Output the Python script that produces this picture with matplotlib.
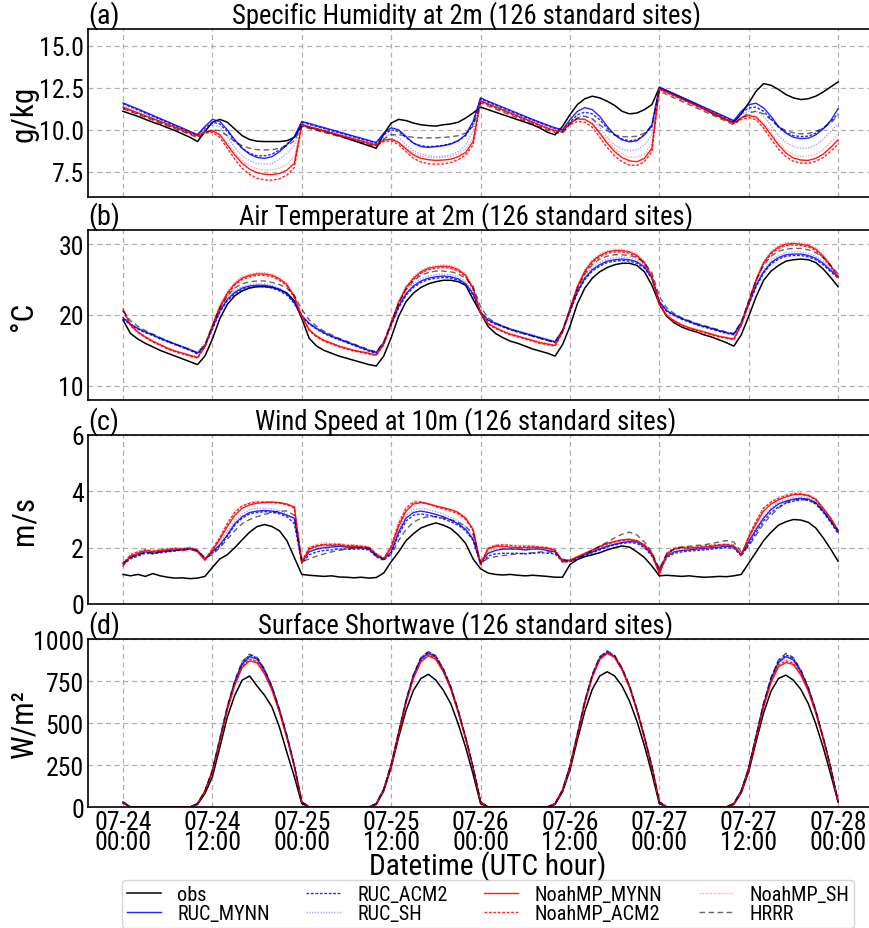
import numpy as np
import matplotlib
matplotlib.use('Agg')
import matplotlib.pyplot as plt
from matplotlib import font_manager

# ---------------- data (hourly, 07-24 00 UTC .. 07-28 00 UTC) ----------------
hours = np.arange(97)
tick_hours = [0, 12, 24, 36, 48, 60, 72, 84, 96]
tick_labels = ['07-24\n00:00', '07-24\n12:00', '07-25\n00:00', '07-25\n12:00', '07-26\n00:00',
               '07-26\n12:00', '07-27\n00:00', '07-27\n12:00', '07-28\n00:00']
series_names = ['obs', 'RUC_MYNN', 'RUC_ACM2', 'RUC_SH', 'NoahMP_MYNN', 'NoahMP_ACM2', 'NoahMP_SH', 'HRRR']

# (a) specific humidity g/kg
q_obs = [11.10, 10.95, 10.80, 10.62, 10.45, 10.30, 10.12, 9.95, 9.75, 9.55, 9.30, 9.90, 10.45, 10.62, 10.45, 10.05, 9.65, 9.42, 9.32, 9.30, 9.30, 9.30, 9.35, 9.55,
         10.30, 10.15, 10.05, 9.92, 9.80, 9.65, 9.50, 9.35, 9.20, 9.05, 8.90, 9.75, 10.40, 10.62, 10.55, 10.40, 10.30, 10.25, 10.22, 10.30, 10.35, 10.45, 10.70, 11.00,
         11.35, 11.20, 11.05, 10.90, 10.75, 10.60, 10.45, 10.30, 10.10, 9.85, 9.70, 10.20, 10.90, 11.50, 11.85, 12.00, 11.90, 11.70, 11.45, 11.10, 10.95, 11.00, 11.20, 11.50,
         12.50, 12.30, 12.10, 11.90, 11.70, 11.50, 11.25, 11.00, 10.80, 10.60, 10.45, 10.95, 11.60, 12.30, 12.75, 12.65, 12.40, 12.10, 11.90, 11.80, 11.85, 12.00, 12.25, 12.55, 12.85]
q_ruc_mynn = [11.60, 11.42, 11.24, 11.05, 10.86, 10.67, 10.48, 10.29, 10.10, 9.90, 9.72, 10.20, 10.62, 10.50, 10.00, 9.40, 8.90, 8.55, 8.35, 8.30, 8.40, 8.70, 9.10, 9.60,
              10.50, 10.38, 10.25, 10.13, 10.00, 9.88, 9.75, 9.62, 9.50, 9.37, 9.25, 9.80, 10.12, 10.00, 9.60, 9.20, 9.00, 8.95, 9.00, 9.05, 9.15, 9.35, 9.70, 10.50,
              11.90, 11.70, 11.52, 11.34, 11.16, 10.98, 10.80, 10.62, 10.45, 10.28, 10.12, 10.00, 10.60, 11.10, 11.32, 11.20, 10.80, 10.20, 9.70, 9.40, 9.28, 9.35, 9.70, 10.30,
              12.55, 12.35, 12.15, 11.95, 11.75, 11.55, 11.35, 11.15, 10.95, 10.75, 10.55, 11.10, 11.50, 11.58, 11.30, 10.80, 10.20, 9.80, 9.55, 9.48, 9.50, 9.70, 10.05, 10.55, 11.25]
q_ruc_acm2 = [11.55, 11.37, 11.19, 11.00, 10.81, 10.62, 10.43, 10.24, 10.05, 9.86, 9.70, 10.10, 10.45, 10.35, 9.90, 9.35, 8.90, 8.60, 8.45, 8.45, 8.55, 8.80, 9.15, 9.55,
              10.45, 10.33, 10.20, 10.08, 9.95, 9.83, 9.70, 9.58, 9.45, 9.33, 9.20, 9.70, 10.00, 9.90, 9.55, 9.20, 9.05, 9.00, 9.02, 9.08, 9.18, 9.35, 9.65, 10.35,
              11.85, 11.65, 11.47, 11.29, 11.11, 10.93, 10.75, 10.58, 10.41, 10.24, 10.08, 9.98, 10.45, 10.90, 11.05, 10.95, 10.60, 10.10, 9.70, 9.45, 9.35, 9.40, 9.70, 10.20,
              12.50, 12.30, 12.10, 11.90, 11.70, 11.50, 11.30, 11.10, 10.90, 10.70, 10.52, 11.00, 11.30, 11.35, 11.10, 10.65, 10.15, 9.85, 9.65, 9.60, 9.62, 9.80, 10.10, 10.50, 10.95]
q_ruc_sh = [11.50, 11.32, 11.14, 10.95, 10.76, 10.57, 10.38, 10.19, 10.00, 9.82, 9.66, 10.00, 10.30, 10.15, 9.60, 8.95, 8.45, 8.15, 8.00, 7.95, 8.00, 8.25, 8.60, 9.05,
            10.40, 10.28, 10.15, 10.03, 9.90, 9.78, 9.65, 9.53, 9.40, 9.28, 9.15, 9.55, 9.75, 9.55, 9.10, 8.75, 8.55, 8.45, 8.40, 8.42, 8.50, 8.70, 9.10, 9.90,
            11.80, 11.60, 11.42, 11.24, 11.06, 10.88, 10.70, 10.53, 10.36, 10.19, 10.04, 9.95, 10.40, 10.75, 10.85, 10.65, 10.15, 9.55, 9.10, 8.85, 8.75, 8.80, 9.10, 9.70,
            12.45, 12.25, 12.05, 11.85, 11.65, 11.45, 11.25, 11.05, 10.85, 10.66, 10.48, 10.90, 11.10, 11.12, 10.80, 10.25, 9.65, 9.25, 9.00, 8.90, 8.92, 9.10, 9.45, 9.90, 10.35]
q_noah_mynn = [11.35, 11.18, 11.01, 10.84, 10.67, 10.50, 10.33, 10.16, 9.99, 9.82, 9.65, 9.88, 9.95, 9.70, 9.10, 8.50, 8.00, 7.65, 7.45, 7.35, 7.33, 7.40, 7.60, 8.00,
               10.30, 10.18, 10.06, 9.94, 9.82, 9.70, 9.58, 9.46, 9.34, 9.22, 9.10, 9.38, 9.45, 9.25, 8.85, 8.50, 8.30, 8.22, 8.18, 8.20, 8.25, 8.40, 8.65, 9.30,
               11.72, 11.54, 11.36, 11.18, 11.00, 10.82, 10.64, 10.46, 10.28, 10.10, 9.95, 9.90, 10.40, 10.65, 10.62, 10.35, 9.80, 9.20, 8.70, 8.35, 8.15, 8.10, 8.30, 8.90,
               12.45, 12.25, 12.05, 11.85, 11.65, 11.45, 11.25, 11.05, 10.85, 10.62, 10.40, 10.72, 10.85, 10.75, 10.30, 9.70, 9.10, 8.62, 8.32, 8.20, 8.18, 8.30, 8.55, 8.95, 9.40]
q_noah_acm2 = [11.30, 11.13, 10.96, 10.79, 10.62, 10.45, 10.28, 10.11, 9.94, 9.77, 9.60, 9.80, 9.85, 9.55, 8.90, 8.25, 7.70, 7.35, 7.12, 7.02, 7.00, 7.08, 7.30, 7.75,
               10.25, 10.13, 10.01, 9.89, 9.77, 9.65, 9.53, 9.41, 9.29, 9.17, 9.05, 9.30, 9.35, 9.12, 8.70, 8.30, 8.08, 7.98, 7.95, 7.97, 8.05, 8.22, 8.50, 9.10,
               11.68, 11.50, 11.32, 11.14, 10.96, 10.78, 10.60, 10.42, 10.24, 10.06, 9.90, 9.85, 10.30, 10.50, 10.45, 10.15, 9.55, 8.95, 8.45, 8.10, 7.90, 7.88, 8.10, 8.70,
               12.40, 12.20, 12.00, 11.80, 11.60, 11.40, 11.20, 11.00, 10.80, 10.58, 10.36, 10.62, 10.72, 10.60, 10.10, 9.45, 8.85, 8.40, 8.12, 8.02, 8.00, 8.12, 8.35, 8.72, 9.15]
q_noah_sh = [11.35, 11.18, 11.01, 10.84, 10.67, 10.50, 10.33, 10.16, 9.99, 9.82, 9.66, 9.92, 10.00, 9.78, 9.25, 8.65, 8.15, 7.85, 7.68, 7.60, 7.62, 7.72, 7.95, 8.40,
             10.28, 10.16, 10.04, 9.92, 9.80, 9.68, 9.56, 9.44, 9.32, 9.20, 9.08, 9.40, 9.48, 9.30, 8.95, 8.62, 8.42, 8.35, 8.32, 8.35, 8.42, 8.58, 8.85, 9.50,
             11.70, 11.52, 11.34, 11.16, 10.98, 10.80, 10.62, 10.44, 10.26, 10.08, 9.93, 9.90, 10.42, 10.68, 10.65, 10.40, 9.90, 9.35, 8.90, 8.55, 8.38, 8.35, 8.55, 9.15,
             12.42, 12.22, 12.02, 11.82, 11.62, 11.42, 11.22, 11.02, 10.82, 10.60, 10.40, 10.75, 10.90, 10.82, 10.42, 9.85, 9.25, 8.80, 8.52, 8.42, 8.42, 8.55, 8.82, 9.25, 9.80]
q_hrrr = [11.25, 11.08, 10.91, 10.74, 10.57, 10.40, 10.23, 10.06, 9.89, 9.72, 9.52, 9.80, 10.00, 9.95, 9.65, 9.30, 9.05, 8.90, 8.82, 8.80, 8.82, 8.90, 9.05, 9.35,
          10.20, 10.08, 9.96, 9.84, 9.72, 9.60, 9.48, 9.36, 9.24, 9.12, 9.00, 9.45, 9.70, 9.72, 9.62, 9.55, 9.52, 9.52, 9.52, 9.55, 9.58, 9.65, 9.80, 10.20,
          11.60, 11.42, 11.24, 11.06, 10.88, 10.70, 10.52, 10.34, 10.16, 9.98, 9.82, 9.80, 10.35, 10.70, 10.80, 10.65, 10.30, 9.95, 9.70, 9.60, 9.58, 9.62, 9.80, 10.20,
          12.30, 12.10, 11.90, 11.70, 11.50, 11.30, 11.10, 10.90, 10.70, 10.50, 10.30, 10.70, 11.00, 11.10, 10.95, 10.60, 10.20, 9.95, 9.82, 9.76, 9.78, 9.90, 10.10, 10.40, 10.85]

# (b) 2 m air temperature, deg C
t_obs = [19.3, 17.4, 16.6, 16.0, 15.5, 15.0, 14.6, 14.2, 13.8, 13.4, 13.0, 14.2, 16.6, 19.5, 21.5, 22.7, 23.4, 23.8, 24.0, 24.0, 23.9, 23.6, 23.1, 22.0,
         19.5, 16.7, 15.6, 15.0, 14.6, 14.2, 13.9, 13.6, 13.3, 13.0, 12.8, 14.2, 16.8, 19.8, 21.9, 23.1, 23.9, 24.4, 24.7, 24.9, 24.9, 24.7, 24.2, 22.2,
         20.3, 18.4, 17.4, 16.8, 16.3, 16.0, 15.6, 15.2, 14.9, 14.6, 14.2, 15.8, 18.4, 21.6, 23.8, 25.2, 26.1, 26.7, 27.1, 27.3, 27.3, 27.0, 26.1, 24.2,
         21.6, 19.8, 18.9, 18.3, 17.9, 17.6, 17.2, 16.9, 16.5, 16.1, 15.6, 17.2, 19.8, 22.6, 24.9, 26.2, 27.0, 27.6, 27.8, 27.9, 27.8, 27.4, 26.5, 25.3, 24.0]
t_ruc_mynn = [19.6, 18.7, 18.1, 17.6, 17.2, 16.7, 16.3, 15.9, 15.5, 15.1, 14.6, 15.7, 18.2, 20.6, 22.2, 23.2, 23.8, 24.1, 24.2, 24.2, 24.0, 23.6, 23.0, 21.8,
              19.9, 18.8, 18.1, 17.5, 17.0, 16.6, 16.2, 15.8, 15.4, 15.0, 14.7, 16.1, 18.7, 21.2, 23.0, 24.1, 24.8, 25.2, 25.4, 25.5, 25.4, 25.1, 24.4, 23.0,
              20.4, 19.3, 18.8, 18.4, 18.0, 17.7, 17.4, 17.1, 16.8, 16.5, 16.2, 17.8, 20.6, 23.3, 25.2, 26.4, 27.1, 27.6, 27.8, 27.9, 27.8, 27.5, 26.8, 25.3,
              21.9, 20.6, 20.0, 19.5, 19.1, 18.7, 18.4, 18.1, 17.8, 17.5, 17.3, 18.9, 21.6, 24.2, 26.1, 27.4, 28.1, 28.5, 28.6, 28.6, 28.4, 28.0, 27.3, 26.3, 25.4]
t_ruc_acm2 = [19.5, 18.6, 18.0, 17.5, 17.1, 16.6, 16.2, 15.8, 15.4, 15.0, 14.5, 15.5, 18.0, 20.4, 22.0, 23.0, 23.6, 23.9, 24.0, 24.0, 23.8, 23.4, 22.8, 21.6,
              19.8, 18.7, 18.0, 17.4, 16.9, 16.5, 16.1, 15.7, 15.3, 14.9, 14.6, 15.9, 18.5, 21.0, 22.8, 23.9, 24.6, 25.0, 25.2, 25.3, 25.2, 24.9, 24.2, 22.8,
              20.3, 19.2, 18.7, 18.3, 17.9, 17.6, 17.3, 17.0, 16.7, 16.4, 16.1, 17.6, 20.4, 23.1, 25.0, 26.2, 26.9, 27.4, 27.6, 27.7, 27.6, 27.3, 26.6, 25.1,
              21.8, 20.5, 19.9, 19.4, 19.0, 18.6, 18.3, 18.0, 17.7, 17.4, 17.2, 18.7, 21.4, 24.0, 25.9, 27.2, 27.9, 28.3, 28.4, 28.4, 28.2, 27.8, 27.1, 26.1, 25.2]
t_ruc_sh = [19.7, 18.8, 18.2, 17.7, 17.3, 16.8, 16.4, 16.0, 15.6, 15.2, 14.8, 16.0, 18.6, 21.0, 22.6, 23.5, 24.0, 24.3, 24.4, 24.4, 24.2, 23.8, 23.2, 22.0,
            20.0, 18.9, 18.2, 17.6, 17.1, 16.7, 16.3, 15.9, 15.5, 15.1, 14.8, 16.3, 19.0, 21.5, 23.3, 24.4, 25.1, 25.5, 25.7, 25.8, 25.7, 25.4, 24.7, 23.3,
            20.5, 19.4, 18.9, 18.5, 18.1, 17.8, 17.5, 17.2, 16.9, 16.6, 16.3, 18.0, 20.9, 23.6, 25.5, 26.7, 27.4, 27.9, 28.1, 28.2, 28.1, 27.8, 27.1, 25.6,
            22.0, 20.7, 20.1, 19.6, 19.2, 18.8, 18.5, 18.2, 17.9, 17.6, 17.4, 19.1, 21.9, 24.5, 26.4, 27.7, 28.4, 28.8, 28.9, 28.9, 28.7, 28.3, 27.6, 26.6, 25.6]
t_noah_mynn = [20.8, 18.6, 17.6, 16.9, 16.3, 15.8, 15.3, 14.9, 14.6, 14.3, 14.0, 15.6, 18.5, 21.2, 23.1, 24.4, 25.2, 25.6, 25.8, 25.8, 25.6, 25.1, 24.3, 22.6,
               19.8, 17.9, 17.0, 16.4, 16.0, 15.6, 15.3, 15.0, 14.8, 14.6, 14.35, 15.9, 18.9, 21.8, 23.9, 25.2, 26.1, 26.6, 26.8, 26.9, 26.8, 26.4, 25.6, 23.8,
               20.3, 18.8, 18.2, 17.7, 17.3, 17.0, 16.7, 16.4, 16.1, 15.9, 15.7, 17.6, 20.9, 24.0, 26.2, 27.6, 28.4, 28.9, 29.1, 29.1, 28.9, 28.4, 27.4, 25.4,
               21.5, 19.9, 19.2, 18.6, 18.2, 17.9, 17.6, 17.3, 17.0, 16.8, 16.6, 18.6, 21.9, 25.0, 27.4, 28.8, 29.6, 30.0, 30.1, 30.0, 29.8, 29.3, 28.3, 27.0, 25.3]
t_noah_acm2 = [20.6, 18.5, 17.5, 16.8, 16.2, 15.7, 15.2, 14.8, 14.5, 14.2, 13.9, 15.5, 18.3, 21.0, 22.9, 24.2, 25.0, 25.4, 25.6, 25.6, 25.4, 24.9, 24.1, 22.4,
               19.7, 17.8, 16.9, 16.3, 15.9, 15.5, 15.2, 14.9, 14.7, 14.5, 14.3, 15.8, 18.7, 21.6, 23.7, 25.0, 25.9, 26.4, 26.6, 26.7, 26.6, 26.2, 25.4, 23.6,
               20.2, 18.7, 18.1, 17.6, 17.2, 16.9, 16.6, 16.3, 16.0, 15.8, 15.6, 17.5, 20.7, 23.8, 26.0, 27.4, 28.2, 28.7, 28.9, 28.9, 28.7, 28.2, 27.2, 25.2,
               21.4, 19.8, 19.1, 18.5, 18.1, 17.8, 17.5, 17.2, 16.9, 16.7, 16.5, 18.5, 21.7, 24.8, 27.2, 28.6, 29.4, 29.8, 29.9, 29.8, 29.6, 29.1, 28.1, 26.8, 25.1]
t_noah_sh = [20.9, 18.7, 17.7, 17.0, 16.4, 15.9, 15.4, 15.0, 14.7, 14.4, 14.1, 15.8, 18.7, 21.4, 23.3, 24.6, 25.4, 25.8, 26.0, 26.0, 25.8, 25.3, 24.5, 22.8,
             19.9, 18.0, 17.1, 16.5, 16.1, 15.7, 15.4, 15.1, 14.9, 14.7, 14.45, 16.0, 19.1, 22.0, 24.1, 25.4, 26.3, 26.8, 27.0, 27.1, 27.0, 26.6, 25.8, 24.0,
             20.4, 18.9, 18.3, 17.8, 17.4, 17.1, 16.8, 16.5, 16.2, 16.0, 15.8, 17.8, 21.1, 24.2, 26.4, 27.8, 28.6, 29.1, 29.3, 29.3, 29.1, 28.6, 27.6, 25.6,
             21.6, 20.0, 19.3, 18.7, 18.3, 18.0, 17.7, 17.4, 17.1, 16.9, 16.7, 18.8, 22.1, 25.2, 27.6, 29.0, 29.8, 30.2, 30.3, 30.2, 30.0, 29.5, 28.5, 27.2, 25.5]
t_hrrr = [20.6, 19.2, 18.4, 17.8, 17.3, 16.8, 16.3, 15.9, 15.5, 15.1, 14.7, 15.8, 18.4, 20.9, 22.7, 23.8, 24.4, 24.7, 24.8, 24.8, 24.6, 24.3, 23.8, 22.8,
          20.8, 19.3, 18.4, 17.7, 17.2, 16.7, 16.3, 15.9, 15.5, 15.1, 14.8, 16.2, 18.9, 21.6, 23.6, 24.8, 25.6, 26.0, 26.2, 26.2, 26.1, 25.8, 25.2, 24.0,
          21.2, 19.6, 18.9, 18.4, 18.0, 17.6, 17.3, 17.0, 16.7, 16.4, 16.2, 17.8, 20.8, 23.7, 25.8, 27.1, 27.9, 28.3, 28.5, 28.5, 28.4, 28.1, 27.4, 26.0,
          22.6, 21.0, 20.2, 19.6, 19.2, 18.8, 18.5, 18.2, 17.9, 17.6, 17.4, 19.0, 22.0, 24.9, 27.0, 28.3, 29.0, 29.3, 29.4, 29.4, 29.2, 28.8, 28.1, 27.0, 25.8]

# (c) 10 m wind speed, m/s
ws_obs = [1.05, 1.00, 1.05, 0.98, 1.08, 1.00, 0.95, 0.92, 0.93, 0.90, 0.92, 0.98, 1.30, 1.60, 1.75, 2.00, 2.28, 2.55, 2.75, 2.82, 2.75, 2.60, 2.25, 1.65,
          1.05, 1.02, 1.00, 0.98, 1.00, 0.96, 0.95, 0.93, 0.95, 0.92, 0.94, 1.10, 1.50, 1.85, 2.25, 2.50, 2.70, 2.80, 2.88, 2.80, 2.68, 2.45, 2.15, 1.60,
          1.25, 1.10, 1.05, 1.03, 1.05, 1.02, 1.00, 1.02, 1.00, 0.98, 0.95, 0.95, 1.40, 1.58, 1.68, 1.75, 1.82, 1.92, 2.00, 2.06, 2.02, 1.85, 1.65, 1.35,
          1.00, 1.02, 1.00, 0.98, 1.00, 0.97, 0.95, 0.96, 0.98, 0.97, 1.00, 1.05, 1.45, 1.85, 2.25, 2.55, 2.80, 2.92, 3.00, 2.98, 2.90, 2.70, 2.35, 1.95, 1.52]
ws_ruc_mynn = [1.45, 1.65, 1.75, 1.85, 1.80, 1.85, 1.88, 1.90, 1.95, 1.98, 1.90, 1.60, 1.85, 2.10, 2.45, 2.85, 3.10, 3.25, 3.30, 3.32, 3.30, 3.25, 3.15, 3.05,
               1.50, 1.85, 1.95, 2.00, 2.02, 2.05, 2.02, 2.00, 2.00, 1.95, 1.70, 1.60, 1.85, 2.55, 3.05, 3.25, 3.30, 3.25, 3.18, 3.10, 2.98, 2.85, 2.65, 2.30,
               1.45, 1.80, 1.90, 1.95, 1.95, 1.95, 1.92, 1.95, 1.95, 1.90, 1.85, 1.55, 1.55, 1.65, 1.75, 1.85, 1.95, 2.05, 2.12, 2.18, 2.22, 2.20, 2.05, 1.75,
               1.20, 1.70, 1.85, 1.90, 1.92, 1.95, 1.97, 2.00, 2.02, 2.05, 2.02, 1.75, 2.20, 2.65, 3.05, 3.35, 3.55, 3.65, 3.72, 3.75, 3.72, 3.60, 3.30, 2.95, 2.55]
ws_ruc_acm2 = [1.40, 1.60, 1.70, 1.80, 1.78, 1.82, 1.85, 1.88, 1.92, 1.95, 1.88, 1.58, 1.80, 2.05, 2.40, 2.80, 3.05, 3.20, 3.25, 3.28, 3.25, 3.20, 3.10, 2.85,
               1.45, 1.75, 1.85, 1.90, 1.92, 1.95, 1.95, 1.95, 1.95, 1.92, 1.68, 1.55, 1.80, 2.45, 2.95, 3.15, 3.20, 3.15, 3.10, 3.02, 2.92, 2.80, 2.60, 2.25,
               1.40, 1.70, 1.78, 1.80, 1.80, 1.80, 1.78, 1.80, 1.82, 1.80, 1.78, 1.50, 1.50, 1.62, 1.72, 1.82, 1.92, 2.02, 2.10, 2.15, 2.18, 2.15, 2.00, 1.70,
               1.15, 1.65, 1.80, 1.85, 1.88, 1.90, 1.92, 1.95, 1.98, 2.00, 1.98, 1.70, 2.10, 2.55, 2.95, 3.25, 3.45, 3.58, 3.65, 3.70, 3.68, 3.55, 3.25, 2.90, 2.50]
ws_ruc_sh = [1.50, 1.70, 1.78, 1.88, 1.85, 1.88, 1.92, 1.95, 1.98, 2.02, 1.95, 1.62, 1.90, 2.20, 2.55, 2.95, 3.20, 3.35, 3.40, 3.40, 3.38, 3.32, 3.20, 2.95,
             1.55, 1.90, 2.00, 2.05, 2.05, 2.08, 2.05, 2.05, 2.05, 2.00, 1.75, 1.62, 1.95, 2.65, 3.15, 3.35, 3.40, 3.35, 3.28, 3.20, 3.08, 2.95, 2.75, 2.40,
             1.50, 1.85, 1.95, 1.98, 1.98, 1.98, 1.95, 1.98, 2.00, 1.95, 1.88, 1.58, 1.58, 1.68, 1.78, 1.88, 1.98, 2.08, 2.15, 2.20, 2.25, 2.22, 2.08, 1.78,
             1.25, 1.75, 1.90, 1.95, 1.98, 2.00, 2.02, 2.05, 2.08, 2.10, 2.08, 1.80, 2.25, 2.70, 3.10, 3.40, 3.60, 3.70, 3.78, 3.80, 3.78, 3.65, 3.35, 3.00, 2.60]
ws_noah_mynn = [1.35, 1.70, 1.80, 1.90, 1.85, 1.90, 1.92, 1.95, 1.90, 1.95, 1.85, 1.55, 1.90, 2.30, 2.75, 3.15, 3.40, 3.52, 3.58, 3.60, 3.62, 3.60, 3.55, 3.45,
                1.45, 1.95, 2.05, 2.10, 2.08, 2.10, 2.05, 2.05, 2.02, 2.00, 1.75, 1.60, 2.00, 2.75, 3.30, 3.55, 3.60, 3.55, 3.48, 3.42, 3.35, 3.25, 3.05, 2.65,
                1.40, 1.95, 2.05, 2.05, 2.02, 2.00, 2.00, 2.02, 2.00, 1.98, 1.90, 1.50, 1.55, 1.68, 1.80, 1.92, 2.05, 2.15, 2.22, 2.28, 2.30, 2.25, 2.10, 1.80,
                1.05, 1.75, 1.95, 2.00, 1.98, 2.00, 2.02, 2.05, 2.08, 2.10, 2.05, 1.75, 2.35, 2.85, 3.30, 3.55, 3.70, 3.80, 3.88, 3.90, 3.85, 3.72, 3.40, 3.05, 2.60]
ws_noah_acm2 = [1.38, 1.75, 1.85, 1.92, 1.88, 1.92, 1.95, 1.98, 1.95, 1.98, 1.88, 1.58, 1.95, 2.35, 2.85, 3.25, 3.48, 3.58, 3.62, 3.62, 3.60, 3.58, 3.52, 3.40,
                1.50, 2.00, 2.08, 2.12, 2.12, 2.12, 2.08, 2.08, 2.05, 2.02, 1.78, 1.62, 2.05, 2.85, 3.40, 3.62, 3.62, 3.55, 3.45, 3.38, 3.30, 3.20, 3.00, 2.60,
                1.42, 1.98, 2.08, 2.10, 2.08, 2.05, 2.05, 2.05, 2.02, 2.00, 1.92, 1.48, 1.52, 1.65, 1.78, 1.90, 2.02, 2.12, 2.20, 2.25, 2.28, 2.22, 2.05, 1.78,
                1.10, 1.80, 1.98, 2.02, 2.00, 2.02, 2.05, 2.08, 2.10, 2.12, 2.08, 1.72, 2.40, 2.95, 3.40, 3.62, 3.75, 3.85, 3.92, 3.90, 3.85, 3.70, 3.38, 3.02, 2.62]
ws_noah_sh = [1.40, 1.78, 1.88, 1.95, 1.90, 1.95, 1.98, 2.00, 1.98, 2.00, 1.90, 1.60, 1.98, 2.40, 2.90, 3.30, 3.50, 3.60, 3.65, 3.65, 3.62, 3.60, 3.55, 3.42,
              1.52, 2.02, 2.12, 2.18, 2.15, 2.15, 2.12, 2.10, 2.08, 2.05, 1.80, 1.65, 2.10, 2.90, 3.45, 3.65, 3.65, 3.58, 3.50, 3.42, 3.35, 3.25, 3.05, 2.65,
              1.45, 2.00, 2.10, 2.12, 2.10, 2.08, 2.08, 2.08, 2.05, 2.02, 1.95, 1.52, 1.55, 1.68, 1.80, 1.92, 2.05, 2.15, 2.22, 2.28, 2.30, 2.25, 2.10, 1.80,
              1.12, 1.82, 2.00, 2.05, 2.02, 2.05, 2.08, 2.10, 2.12, 2.15, 2.10, 1.75, 2.42, 2.95, 3.42, 3.65, 3.80, 3.88, 3.95, 3.95, 3.90, 3.75, 3.42, 3.05, 2.65]
ws_hrrr = [1.45, 1.65, 1.75, 1.82, 1.82, 1.85, 1.88, 1.90, 1.92, 1.95, 1.90, 1.65, 1.75, 2.00, 2.30, 2.60, 2.85, 3.00, 3.10, 3.18, 3.25, 3.30, 3.30, 3.15,
           1.50, 1.60, 1.70, 1.78, 1.85, 1.90, 1.95, 1.98, 2.00, 1.98, 1.75, 1.58, 1.75, 2.25, 2.65, 2.90, 3.05, 3.10, 3.10, 3.05, 3.00, 2.90, 2.75, 2.50,
           1.45, 1.62, 1.68, 1.72, 1.75, 1.78, 1.80, 1.82, 1.85, 1.85, 1.82, 1.60, 1.50, 1.60, 1.75, 1.90, 2.05, 2.20, 2.35, 2.48, 2.55, 2.45, 2.20, 1.85,
           1.25, 1.80, 1.95, 2.02, 2.05, 2.08, 2.10, 2.15, 2.20, 2.25, 2.20, 1.85, 2.05, 2.45, 2.85, 3.15, 3.40, 3.60, 3.70, 3.72, 3.70, 3.58, 3.30, 2.95, 2.60]

# (d) surface shortwave, W/m2
sw_obs = [30, 0, 0, 0, 0, 0, 0, 0, 0, 0, 15, 80, 180, 355, 535, 665, 755, 780, 720, 665, 595, 475, 325, 180,
          20, 0, 0, 0, 0, 0, 0, 0, 0, 0, 15, 95, 235, 415, 575, 695, 765, 790, 755, 695, 615, 495, 355, 195,
          20, 0, 0, 0, 0, 0, 0, 0, 0, 0, 15, 90, 220, 400, 570, 700, 780, 805, 780, 720, 630, 510, 365, 200,
          20, 0, 0, 0, 0, 0, 0, 0, 0, 0, 15, 85, 210, 390, 560, 690, 765, 785, 755, 700, 615, 495, 355, 195, 30]
sw_ruc_mynn = [25, 0, 0, 0, 0, 0, 0, 0, 0, 0, 20, 95, 215, 400, 590, 740, 850, 895, 880, 810, 710, 575, 420, 245,
               30, 0, 0, 0, 0, 0, 0, 0, 0, 0, 20, 105, 250, 440, 630, 780, 880, 915, 890, 815, 710, 570, 410, 235,
               30, 0, 0, 0, 0, 0, 0, 0, 0, 0, 20, 100, 240, 430, 625, 780, 885, 920, 895, 820, 715, 575, 415, 240,
               30, 0, 0, 0, 0, 0, 0, 0, 0, 0, 20, 95, 230, 420, 610, 760, 860, 895, 875, 805, 705, 570, 410, 235, 30]
sw_ruc_acm2 = [25, 0, 0, 0, 0, 0, 0, 0, 0, 0, 20, 95, 218, 405, 595, 748, 860, 905, 888, 818, 716, 580, 425, 248,
               30, 0, 0, 0, 0, 0, 0, 0, 0, 0, 20, 106, 252, 445, 636, 788, 888, 925, 898, 822, 716, 575, 414, 238,
               30, 0, 0, 0, 0, 0, 0, 0, 0, 0, 20, 101, 242, 434, 630, 786, 892, 925, 900, 826, 720, 580, 418, 242,
               30, 0, 0, 0, 0, 0, 0, 0, 0, 0, 20, 96, 232, 424, 616, 768, 870, 905, 884, 812, 710, 574, 413, 238, 30]
sw_ruc_sh = [25, 0, 0, 0, 0, 0, 0, 0, 0, 0, 20, 94, 216, 402, 592, 745, 856, 900, 884, 815, 714, 578, 422, 246,
             30, 0, 0, 0, 0, 0, 0, 0, 0, 0, 20, 105, 251, 443, 633, 785, 885, 920, 895, 820, 714, 574, 412, 237,
             30, 0, 0, 0, 0, 0, 0, 0, 0, 0, 20, 100, 241, 432, 628, 783, 889, 920, 898, 824, 718, 578, 417, 241,
             30, 0, 0, 0, 0, 0, 0, 0, 0, 0, 20, 96, 231, 422, 614, 765, 868, 910, 882, 810, 708, 572, 412, 237, 30]
sw_noah_mynn = [25, 0, 0, 0, 0, 0, 0, 0, 0, 0, 20, 92, 210, 392, 578, 725, 830, 870, 858, 792, 695, 565, 412, 240,
                30, 0, 0, 0, 0, 0, 0, 0, 0, 0, 20, 102, 245, 432, 620, 768, 865, 900, 878, 805, 702, 562, 405, 232,
                30, 0, 0, 0, 0, 0, 0, 0, 0, 0, 20, 98, 236, 425, 618, 772, 878, 915, 890, 815, 712, 572, 412, 238,
                30, 0, 0, 0, 0, 0, 0, 0, 0, 0, 20, 92, 225, 410, 595, 742, 835, 860, 848, 785, 690, 560, 405, 232, 30]
sw_noah_acm2 = [25, 0, 0, 0, 0, 0, 0, 0, 0, 0, 20, 93, 212, 395, 582, 730, 838, 880, 865, 798, 700, 568, 414, 242,
                30, 0, 0, 0, 0, 0, 0, 0, 0, 0, 20, 103, 247, 435, 624, 772, 870, 905, 882, 808, 705, 565, 407, 234,
                30, 0, 0, 0, 0, 0, 0, 0, 0, 0, 20, 99, 237, 427, 620, 775, 880, 915, 892, 818, 714, 574, 413, 239,
                30, 0, 0, 0, 0, 0, 0, 0, 0, 0, 20, 93, 227, 414, 600, 748, 845, 870, 856, 792, 695, 564, 408, 234, 30]
sw_noah_sh = [25, 0, 0, 0, 0, 0, 0, 0, 0, 0, 20, 94, 214, 398, 585, 735, 842, 885, 870, 802, 704, 571, 416, 243,
              30, 0, 0, 0, 0, 0, 0, 0, 0, 0, 20, 104, 248, 438, 627, 776, 874, 910, 886, 812, 708, 568, 409, 235,
              30, 0, 0, 0, 0, 0, 0, 0, 0, 0, 20, 100, 239, 429, 623, 778, 884, 920, 895, 820, 716, 576, 415, 240,
              30, 0, 0, 0, 0, 0, 0, 0, 0, 0, 20, 94, 229, 417, 605, 753, 852, 880, 864, 798, 700, 567, 410, 236, 30]
sw_hrrr = [25, 0, 0, 0, 0, 0, 0, 0, 0, 0, 20, 96, 220, 408, 600, 752, 866, 910, 892, 822, 720, 584, 428, 250,
           30, 0, 0, 0, 0, 0, 0, 0, 0, 0, 20, 106, 253, 446, 638, 790, 890, 925, 900, 824, 718, 578, 416, 240,
           30, 0, 0, 0, 0, 0, 0, 0, 0, 0, 20, 102, 244, 436, 633, 790, 896, 930, 904, 830, 724, 584, 421, 244,
           30, 0, 0, 0, 0, 0, 0, 0, 0, 0, 20, 97, 234, 426, 620, 772, 876, 915, 890, 818, 714, 578, 416, 240, 30]

panel_series = [
    [q_obs, q_ruc_mynn, q_ruc_acm2, q_ruc_sh, q_noah_mynn, q_noah_acm2, q_noah_sh, q_hrrr],
    [t_obs, t_ruc_mynn, t_ruc_acm2, t_ruc_sh, t_noah_mynn, t_noah_acm2, t_noah_sh, t_hrrr],
    [ws_obs, ws_ruc_mynn, ws_ruc_acm2, ws_ruc_sh, ws_noah_mynn, ws_noah_acm2, ws_noah_sh, ws_hrrr],
    [sw_obs, sw_ruc_mynn, sw_ruc_acm2, sw_ruc_sh, sw_noah_mynn, sw_noah_acm2, sw_noah_sh, sw_hrrr],
]
for pi, group in enumerate(panel_series):
    for si, s in enumerate(group):
        assert len(s) == len(hours), (pi, si, len(s))

panel_titles = ['Specific Humidity at 2m (126 standard sites)', 'Air Temperature at 2m (126 standard sites)',
                'Wind Speed at 10m (126 standard sites)', 'Surface Shortwave (126 standard sites)']
panel_letters = ['(a)', '(b)', '(c)', '(d)']
panel_ylabels = ['g/kg', '°C', 'm/s', 'W/m²']
panel_ylims = [(6, 16), (8, 32), (0, 6), (0, 1000)]
panel_yticks = [[7.5, 10.0, 12.5, 15.0], [10, 20, 30], [0, 2, 4, 6], [0, 250, 500, 750, 1000]]
panel_yfmt = ['{:.1f}', '{:d}', '{:d}', '{:d}']

# ---------------- styles ----------------
styles = [
    dict(color='black', lw=1.1, ls='-', alpha=1.0),
    dict(color='blue', lw=1.0, ls='-', alpha=0.85),
    dict(color='blue', lw=1.0, ls=(0, (2, 1.2)), alpha=0.85),
    dict(color='blue', lw=1.0, ls=(0, (1, 1)), alpha=0.35),
    dict(color='red', lw=1.0, ls='-', alpha=0.9),
    dict(color='red', lw=1.0, ls=(0, (2, 1.2)), alpha=0.85),
    dict(color='red', lw=1.0, ls=(0, (1, 1)), alpha=0.35),
    dict(color='black', lw=1.0, ls=(0, (4, 2.5)), alpha=0.6),
]

# font: prefer a narrow face (the reference uses condensed lettering)
flist = font_manager.fontManager.ttflist
names = {f.name for f in flist}
FAM, STRETCH, FS = 'DejaVu Sans', 'normal', 1.0
if 'Liberation Sans Narrow' in names:
    FAM, FS = 'Liberation Sans Narrow', 1.33
elif 'Roboto Condensed' in names:
    FAM, FS = 'Roboto Condensed', 1.28
elif any(f.name == 'DejaVu Sans' and str(f.stretch) in ('condensed', 'semi-condensed') for f in flist):
    STRETCH, FS = 'condensed', 1.1
plt.rcParams['font.family'] = [FAM, 'DejaVu Sans']
plt.rcParams['font.stretch'] = STRETCH

SZ_TITLE, SZ_LETTER, SZ_TICK, SZ_XLAB, SZ_YLAB, SZ_LEG = 15.0 * FS, 16.0 * FS, 14.5 * FS, 16.5 * FS, 17.5 * FS, 11.4 * FS

W, H = 869, 929
fig = plt.figure(figsize=(W / 100, H / 100), dpi=100)
x_left, x_right = 88, 888
panel_px = [(30, 198), (231, 401), (436, 605), (640, 808)]

handles = []
axes = []
for i, (top, bot) in enumerate(panel_px):
    ax = fig.add_axes([x_left / W, 1 - bot / H, (x_right - x_left) / W, (bot - top) / H])
    axes.append(ax)
    for s, st, nm in zip(panel_series[i], styles, series_names):
        ln, = ax.plot(hours, s, color=st['color'], lw=st['lw'], ls=st['ls'], alpha=st['alpha'], label=nm)
        if i == 0:
            handles.append(ln)
    ax.set_xlim(-4.7, 102.7)
    ax.set_ylim(*panel_ylims[i])
    ax.set_xticks(tick_hours)
    ax.set_yticks(panel_yticks[i])
    ax.set_yticklabels([panel_yfmt[i].format(v) for v in panel_yticks[i]])
    if i == 3:
        ax.set_xticklabels(tick_labels)
        for lbl in ax.get_xticklabels():
            lbl.set_linespacing(0.82)
    else:
        ax.set_xticklabels([])
    ax.grid(True, color='#b0b0b0', ls=(0, (4, 3)), lw=0.9)
    ax.set_axisbelow(True)
    ax.tick_params(axis='y', length=0, labelsize=SZ_TICK, pad=3)
    ax.tick_params(axis='x', length=0, labelsize=SZ_TICK, pad=2)
    for sp in ax.spines.values():
        sp.set_linewidth(1.2)
    ax.text(0.0, 1.0, panel_letters[i], transform=ax.transAxes, ha='left', va='bottom', fontsize=SZ_LETTER)
    ax.text(0.4725, 1.0, panel_titles[i], transform=ax.transAxes, ha='center', va='bottom', fontsize=SZ_TITLE)
    ax.set_ylabel(panel_ylabels[i], fontsize=SZ_YLAB)
    ax.yaxis.set_label_coords(-0.062, 0.5)

axes[3].set_xlabel('Datetime (UTC hour)', fontsize=SZ_XLAB, labelpad=-3)

fig.legend(handles, series_names, ncol=4, loc='center', bbox_to_anchor=(488 / W, 1 - 905 / H),
           fontsize=SZ_LEG, handlelength=1.7, columnspacing=1.8, labelspacing=0.02,
           borderpad=0.25, frameon=True, edgecolor='#cccccc')

fig.savefig('out.png', dpi=100)
